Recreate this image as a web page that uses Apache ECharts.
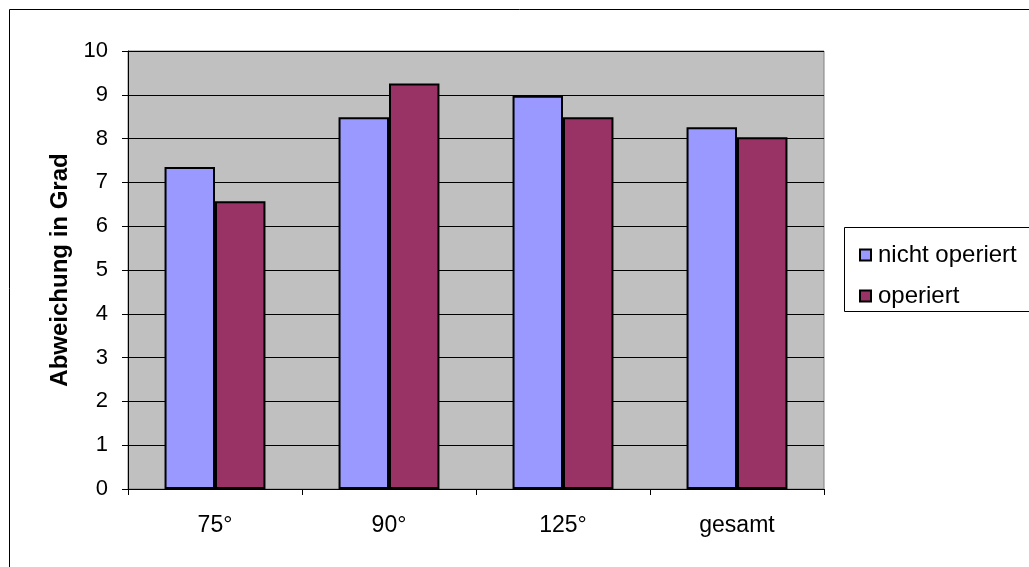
<!DOCTYPE html>
<html>
<head>
<meta charset="utf-8">
<script src="https://cdn.jsdelivr.net/npm/echarts@6/dist/echarts.min.js"></script>
<style>html,body{margin:0;padding:0;background:#fff}#c{width:1029px;height:567px}</style>
</head>
<body>
<div id="c"></div>
<script>
const categories = ['75°', '90°', '125°', 'gesamt'];
const nichtOperiert = [7.35, 8.49, 8.98, 8.26];
const operiert = [6.57, 9.26, 8.49, 8.03];
const yTicks = [0, 1, 2, 3, 4, 5, 6, 7, 8, 9, 10];
const seriesNames = ['nicht operiert', 'operiert'];
const yAxisTitle = 'Abweichung in Grad';

const font = 'Arial, "Liberation Sans", sans-serif';
const chart = echarts.init(document.getElementById('c'));
chart.setOption({
  animation: false,
  backgroundColor: '#ffffff',
  graphic: [
    { type: 'rect', shape: { x: 9.5, y: 9.5, width: 1100, height: 700 }, style: { fill: 'none', stroke: '#000', lineWidth: 1 }, z: -10 },
    { type: 'rect', shape: { x: 844.5, y: 227.5, width: 220, height: 84 }, style: { fill: '#fff', stroke: '#000', lineWidth: 1 }, z: 0 }
  ],
  grid: { left: 128, right: 205, top: 51, bottom: 78, show: true, backgroundColor: '#C0C0C0', borderColor: '#808080', borderWidth: 1 },
  legend: {
    orient: 'vertical', left: 854, top: 238, itemWidth: 11, itemHeight: 11, itemGap: 17,
    icon: 'rect', textStyle: { fontSize: 24, fontFamily: font, color: '#000', padding: [0, 0, 0, 2] },
    data: seriesNames, z: 5
  },
  xAxis: {
    type: 'category', data: categories, boundaryGap: true,
    axisLine: { lineStyle: { color: '#000', width: 1 } },
    axisTick: { show: true, length: 6, lineStyle: { color: '#000' } },
    axisLabel: { fontSize: 23, fontFamily: font, color: '#000', margin: 25 }
  },
  yAxis: {
    type: 'value', min: yTicks[0], max: yTicks[yTicks.length - 1], interval: 1,
    name: yAxisTitle, nameLocation: 'middle', nameGap: 55,
    nameTextStyle: { fontSize: 24, fontWeight: 'bold', fontFamily: font, color: '#000' },
    axisLine: { show: true, lineStyle: { color: '#000', width: 1 } },
    axisTick: { show: true, length: 6, lineStyle: { color: '#000' } },
    axisLabel: { fontSize: 22, fontFamily: font, color: '#000', margin: 20 },
    splitLine: { show: true, lineStyle: { color: '#000', width: 1 } }
  },
  series: [
    { name: seriesNames[0], type: 'bar', data: nichtOperiert, barGap: '0%', barCategoryGap: '42%',
      itemStyle: { color: '#9999FF', borderColor: '#000', borderWidth: 2 } },
    { name: seriesNames[1], type: 'bar', data: operiert, barGap: '0%', barCategoryGap: '42%',
      itemStyle: { color: '#993366', borderColor: '#000', borderWidth: 2 } }
  ]
});
</script>
</body>
</html>
